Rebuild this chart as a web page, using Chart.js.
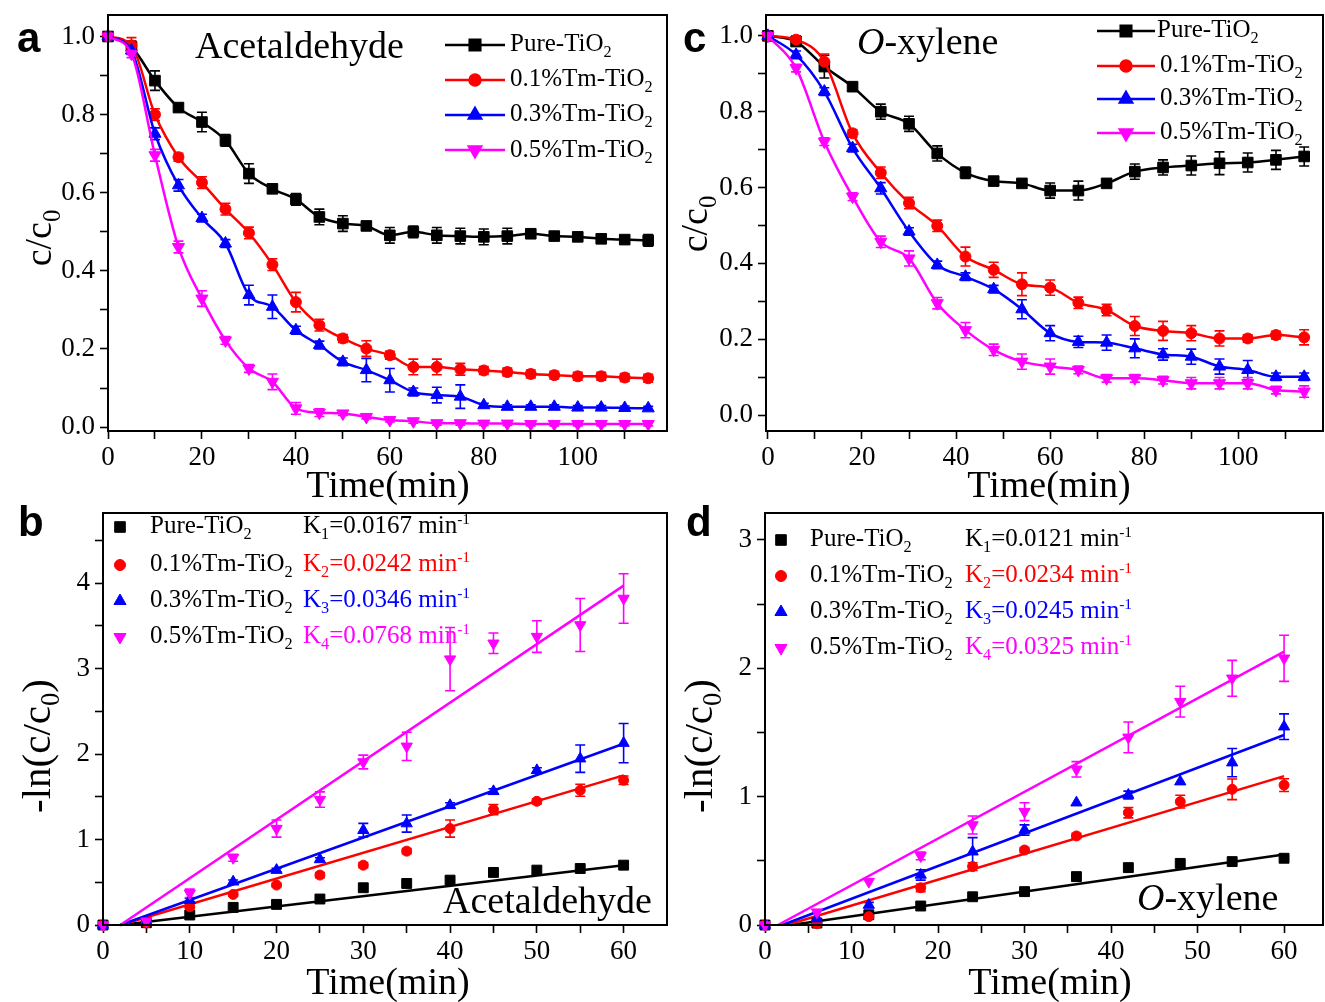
<!DOCTYPE html>
<html>
<head>
<meta charset="utf-8">
<script src="https://cdn.jsdelivr.net/npm/chart.js@4.4.1/dist/chart.umd.min.js"></script>
<style>
  body { margin: 0; background: #fff; }
  #fig { position: relative; width: 1325px; height: 1002px; overflow: hidden; background: #fff;
         font-family: "Liberation Serif", "Times New Roman", serif; color: #000; }
  #fig canvas { position: absolute; }
  .t { position: absolute; white-space: nowrap; line-height: 1; }
  .c { transform: translateX(-50%); }
  .rot { transform: translate(-50%, -50%) rotate(-90deg); }
  .letter { font-family: "Liberation Sans", Arial, sans-serif; font-weight: bold; font-size: 42px; }
  .title { font-size: 38px; }
  .ytitle { font-size: 38px; }
  .ltitle { font-size: 41px; }
  .key { font-size: 25px; }
  .gas { font-size: 38px; }
  sub { font-size: 0.65em; vertical-align: -0.35em; line-height: 0; }
  sup { font-size: 0.62em; vertical-align: 0.6em; line-height: 0; }
</style>
</head>
<body>
<div id="fig">
  <canvas id="chartA" width="680" height="500" style="left:0;top:0"></canvas>
  <canvas id="chartC" width="645" height="500" style="left:680px;top:0"></canvas>
  <canvas id="chartB" width="680" height="502" style="left:0;top:500px"></canvas>
  <canvas id="chartD" width="645" height="502" style="left:680px;top:500px"></canvas>

  <!-- panel letters -->
  <div class="t letter" style="left:17px;top:17px">a</div>
  <div class="t letter" style="left:683px;top:17px">c</div>
  <div class="t letter" style="left:18px;top:501px">b</div>
  <div class="t letter" style="left:686px;top:501px">d</div>

  <!-- axis titles -->
  <div class="t title c" style="left:388px;top:465px">Time(min)</div>
  <div class="t title c" style="left:1049px;top:465px">Time(min)</div>
  <div class="t title c" style="left:388px;top:962px">Time(min)</div>
  <div class="t title c" style="left:1050px;top:962px">Time(min)</div>
  <div class="t ytitle rot" style="left:38px;top:238px">c/c<sub>0</sub></div>
  <div class="t ytitle rot" style="left:694px;top:224px">c/c<sub>0</sub></div>
  <div class="t ltitle rot" style="left:36px;top:746px">-ln(c/c<sub>0</sub>)</div>
  <div class="t ltitle rot" style="left:698px;top:746px">-ln(c/c<sub>0</sub>)</div>

  <!-- pollutant labels -->
  <div class="t gas" style="left:195px;top:26px">Acetaldehyde</div>
  <div class="t gas" style="left:857px;top:22px"><i>O</i>-xylene</div>
  <div class="t gas" style="left:443px;top:881px">Acetaldehyde</div>
  <div class="t gas" style="left:1137px;top:878px"><i>O</i>-xylene</div>

  <!-- key texts, panel a -->
  <div class="t key" style="left:510px;top:30px">Pure-TiO<sub>2</sub></div>
  <div class="t key" style="left:510px;top:65px">0.1%Tm-TiO<sub>2</sub></div>
  <div class="t key" style="left:510px;top:100px">0.3%Tm-TiO<sub>2</sub></div>
  <div class="t key" style="left:510px;top:136px">0.5%Tm-TiO<sub>2</sub></div>
  <!-- key texts, panel c -->
  <div class="t key" style="left:1157px;top:16px">Pure-TiO<sub>2</sub></div>
  <div class="t key" style="left:1160px;top:51px">0.1%Tm-TiO<sub>2</sub></div>
  <div class="t key" style="left:1160px;top:84px">0.3%Tm-TiO<sub>2</sub></div>
  <div class="t key" style="left:1160px;top:118px">0.5%Tm-TiO<sub>2</sub></div>
  <!-- key texts, panel b -->
  <div class="t key" style="left:150px;top:512px">Pure-TiO<sub>2</sub></div>
  <div class="t key" style="left:150px;top:550px">0.1%Tm-TiO<sub>2</sub></div>
  <div class="t key" style="left:150px;top:586px">0.3%Tm-TiO<sub>2</sub></div>
  <div class="t key" style="left:150px;top:622px">0.5%Tm-TiO<sub>2</sub></div>
  <div class="t key" style="left:303px;top:512px">K<sub>1</sub>=0.0167 min<sup>-1</sup></div>
  <div class="t key" style="left:303px;top:550px;color:#ff0000">K<sub>2</sub>=0.0242 min<sup>-1</sup></div>
  <div class="t key" style="left:303px;top:586px;color:#0000ff">K<sub>3</sub>=0.0346 min<sup>-1</sup></div>
  <div class="t key" style="left:303px;top:622px;color:#ff00ff">K<sub>4</sub>=0.0768 min<sup>-1</sup></div>
  <!-- key texts, panel d -->
  <div class="t key" style="left:810px;top:525px">Pure-TiO<sub>2</sub></div>
  <div class="t key" style="left:810px;top:561px">0.1%Tm-TiO<sub>2</sub></div>
  <div class="t key" style="left:810px;top:597px">0.3%Tm-TiO<sub>2</sub></div>
  <div class="t key" style="left:810px;top:633px">0.5%Tm-TiO<sub>2</sub></div>
  <div class="t key" style="left:965px;top:525px">K<sub>1</sub>=0.0121 min<sup>-1</sup></div>
  <div class="t key" style="left:965px;top:561px;color:#ff0000">K<sub>2</sub>=0.0234 min<sup>-1</sup></div>
  <div class="t key" style="left:965px;top:597px;color:#0000ff">K<sub>3</sub>=0.0245 min<sup>-1</sup></div>
  <div class="t key" style="left:965px;top:633px;color:#ff00ff">K<sub>4</sub>=0.0325 min<sup>-1</sup></div>
</div>

<script>
const SERIF = '"Liberation Serif", "Times New Roman", serif'
const BLACK = "#000000"
const RED = "#ff0000"
const BLUE = "#0000ff"
const MAGENTA = "#ff00ff"

// ---- (a) acetaldehyde, c/c0 vs time ----
const acetTime = [0, 5, 10, 15, 20, 25, 30, 35, 40, 45, 50, 55, 60, 65, 70, 75, 80, 85, 90, 95, 100, 105, 110, 115]
const acetPure = [1.0, 0.973, 0.887, 0.818, 0.781, 0.734, 0.649, 0.610, 0.583, 0.538, 0.521, 0.515, 0.491, 0.500, 0.491, 0.489, 0.487, 0.489, 0.495, 0.489, 0.487, 0.482, 0.480, 0.478]
const acetPureErr = [0, 0.015, 0.025, 0, 0.025, 0.015, 0.025, 0.01, 0.015, 0.02, 0.02, 0.01, 0.02, 0.015, 0.02, 0.02, 0.02, 0.02, 0.01, 0.01, 0.01, 0.01, 0.01, 0.015]
const acetTm01 = [1.0, 0.977, 0.800, 0.691, 0.626, 0.558, 0.497, 0.416, 0.320, 0.261, 0.227, 0.201, 0.184, 0.154, 0.154, 0.148, 0.145, 0.141, 0.136, 0.133, 0.130, 0.130, 0.127, 0.125]
const acetTm01Err = [0, 0.02, 0.015, 0.01, 0.015, 0.015, 0.015, 0.015, 0.025, 0.015, 0.01, 0.02, 0.01, 0.02, 0.02, 0.015, 0.01, 0.01, 0.01, 0.01, 0.01, 0.01, 0.01, 0.01]
const acetTm03 = [1.0, 0.964, 0.751, 0.619, 0.535, 0.470, 0.338, 0.308, 0.248, 0.210, 0.167, 0.146, 0.120, 0.090, 0.082, 0.078, 0.056, 0.052, 0.052, 0.052, 0.050, 0.050, 0.049, 0.048]
const acetTm03Err = [0, 0.01, 0.015, 0.015, 0.01, 0.01, 0.025, 0.03, 0.01, 0.01, 0.01, 0.03, 0.03, 0.01, 0.02, 0.03, 0.005, 0.005, 0.005, 0.005, 0.005, 0.005, 0.005, 0.005]
const acetTm05 = [1.0, 0.956, 0.696, 0.461, 0.329, 0.222, 0.150, 0.116, 0.048, 0.037, 0.035, 0.026, 0.018, 0.015, 0.010, 0.010, 0.009, 0.009, 0.008, 0.008, 0.008, 0.008, 0.008, 0.008]
const acetTm05Err = [0, 0.01, 0.015, 0.015, 0.02, 0.01, 0.01, 0.02, 0.015, 0.01, 0.005, 0.005, 0.005, 0.005, 0.005, 0.005, 0.005, 0.005, 0.005, 0.005, 0.005, 0.005, 0.005, 0.005]

// ---- (c) o-xylene, c/c0 vs time ----
const xylTime = [0, 6, 12, 18, 24, 30, 36, 42, 48, 54, 60, 66, 72, 78, 84, 90, 96, 102, 108, 114]
const xylPure = [1.0, 0.985, 0.919, 0.866, 0.800, 0.768, 0.690, 0.639, 0.617, 0.611, 0.592, 0.592, 0.611, 0.642, 0.653, 0.658, 0.664, 0.666, 0.673, 0.682]
const xylPureErr = [0, 0.01, 0.03, 0.01, 0.02, 0.02, 0.02, 0.015, 0.01, 0.01, 0.02, 0.025, 0.01, 0.02, 0.02, 0.025, 0.03, 0.025, 0.025, 0.025]
const xylTm01 = [1.0, 0.990, 0.932, 0.743, 0.639, 0.559, 0.499, 0.418, 0.383, 0.345, 0.336, 0.296, 0.277, 0.235, 0.222, 0.216, 0.202, 0.202, 0.211, 0.205]
const xylTm01Err = [0, 0.01, 0.02, 0.01, 0.015, 0.015, 0.015, 0.025, 0.02, 0.03, 0.02, 0.015, 0.015, 0.025, 0.025, 0.02, 0.02, 0.01, 0.01, 0.02]
const xylTm03 = [1.0, 0.950, 0.853, 0.704, 0.598, 0.484, 0.396, 0.365, 0.332, 0.279, 0.216, 0.193, 0.191, 0.176, 0.160, 0.154, 0.128, 0.119, 0.101, 0.101]
const xylTm03Err = [0, 0.01, 0.01, 0.01, 0.015, 0.01, 0.01, 0.01, 0.01, 0.025, 0.02, 0.015, 0.02, 0.025, 0.015, 0.02, 0.02, 0.025, 0.01, 0.01]
const xylTm05 = [1.0, 0.915, 0.721, 0.576, 0.457, 0.413, 0.295, 0.224, 0.172, 0.141, 0.128, 0.119, 0.097, 0.097, 0.092, 0.084, 0.084, 0.084, 0.066, 0.062]
const xylTm05Err = [0, 0.01, 0.01, 0.01, 0.015, 0.02, 0.015, 0.02, 0.015, 0.02, 0.02, 0.01, 0.01, 0.01, 0.01, 0.015, 0.015, 0.015, 0.01, 0.015]

// ---- (b) acetaldehyde kinetics, -ln(c/c0) ----
const acetKinTime = [0, 5, 10, 15, 20, 25, 30, 35, 40, 45, 50, 55, 60]
const acetKinPure = [0, 0.027, 0.117, 0.206, 0.241, 0.304, 0.436, 0.486, 0.525, 0.615, 0.642, 0.661, 0.700]
const acetKinPureErr = [0, 0, 0, 0, 0, 0, 0, 0, 0, 0, 0, 0, 0]
const acetKinTm01 = [0, 0.023, 0.214, 0.358, 0.467, 0.584, 0.700, 0.864, 1.128, 1.350, 1.447, 1.576, 1.693]
const acetKinTm01Err = [0, 0, 0.02, 0.02, 0.02, 0.03, 0.03, 0.03, 0.10, 0.06, 0.03, 0.07, 0.05]
const acetKinTm03 = [0, 0.037, 0.290, 0.506, 0.642, 0.767, 1.109, 1.187, 1.400, 1.564, 1.809, 1.946, 2.128]
const acetKinTm03Err = [0, 0, 0.02, 0.02, 0.02, 0.02, 0.08, 0.10, 0.03, 0.03, 0.03, 0.16, 0.23]
const acetKinTm05 = [0, 0.045, 0.370, 0.786, 1.128, 1.467, 1.907, 2.090, 3.110, 3.296, 3.374, 3.510, 3.820]
const acetKinTm05Err = [0, 0, 0.05, 0.04, 0.10, 0.09, 0.08, 0.165, 0.37, 0.12, 0.185, 0.31, 0.29]
// fitted lines: [time, value] end points
const acetFitPure = [[2, 0], [60, 0.70]]
const acetFitTm01 = [[2, 0], [60, 1.75]]
const acetFitTm03 = [[2, 0], [60, 2.12]]
const acetFitTm05 = [[2, 0], [60, 3.97]]

// ---- (d) o-xylene kinetics, -ln(c/c0) ----
const xylKinTime = [0, 6, 12, 18, 24, 30, 36, 42, 48, 54, 60]
const xylKinPure = [0, 0.015, 0.080, 0.148, 0.220, 0.260, 0.377, 0.447, 0.480, 0.494, 0.520]
const xylKinPureErr = [0, 0, 0, 0, 0, 0, 0, 0, 0, 0, 0]
const xylKinTm01 = [0, 0.010, 0.065, 0.290, 0.455, 0.584, 0.694, 0.875, 0.961, 1.057, 1.090]
const xylKinTm01Err = [0, 0, 0.02, 0.03, 0.03, 0.02, 0.02, 0.04, 0.05, 0.08, 0.05]
const xylKinTm03 = [0, 0.050, 0.156, 0.390, 0.571, 0.740, 0.953, 1.013, 1.117, 1.265, 1.545]
const xylKinTm03Err = [0, 0, 0.02, 0.04, 0.11, 0.04, 0, 0.03, 0, 0.11, 0.10]
const xylKinTm05 = [0, 0.100, 0.338, 0.538, 0.779, 0.883, 1.213, 1.462, 1.740, 1.922, 2.078]
const xylKinTm05Err = [0, 0, 0, 0.03, 0.07, 0.07, 0.06, 0.12, 0.12, 0.14, 0.18]
const xylFitPure = [[3, 0], [60, 0.55]]
const xylFitTm01 = [[2.5, 0], [60, 1.16]]
const xylFitTm03 = [[2, 0], [60, 1.48]]
const xylFitTm05 = [[1.5, 0], [60, 2.13]]

// ---- tick positions (every other one carries a label) ----
const ratioYTicks = [0, 0.1, 0.2, 0.3, 0.4, 0.5, 0.6, 0.7, 0.8, 0.9, 1.0]
const longTimeTicks = [0, 10, 20, 30, 40, 50, 60, 70, 80, 90, 100, 110]
const acetKinYTicks = [0, 0.5, 1, 1.5, 2, 2.5, 3, 3.5, 4, 4.5]
const xylKinYTicks = [0, 0.5, 1, 1.5, 2, 2.5, 3]
const shortTimeTicks = [0, 5, 10, 15, 20, 25, 30, 35, 40, 45, 50, 55, 60]

// marker looks per sample
const SERIES_STYLE = [
  { color: BLACK, pointStyle: "rect", radius: 7.5, rotation: 0 },
  { color: RED, pointStyle: "circle", radius: 5.5, rotation: 0 },
  { color: BLUE, pointStyle: "triangle", radius: 7, rotation: 0 },
  { color: MAGENTA, pointStyle: "triangle", radius: 7, rotation: 180 }
]

const pts = (xs, ys) => xs.map((x, i) => ({ x: x, y: ys[i] }))

// Vertical error bars with short caps, drawn under the markers.
const errorBarPlugin = {
  id: "errorBars",
  beforeDatasetsDraw(chart) {
    const { ctx, scales } = chart
    chart.data.datasets.forEach((ds) => {
      if (!ds.errors) return
      ctx.save()
      ctx.strokeStyle = ds.errColor
      ctx.lineWidth = 1.6
      ds.data.forEach((p, i) => {
        const e = ds.errors[i]
        if (!e) return
        const px = scales.x.getPixelForValue(p.x)
        const top = scales.y.getPixelForValue(p.y + e)
        const bot = scales.y.getPixelForValue(p.y - e)
        ctx.beginPath()
        ctx.moveTo(px, top); ctx.lineTo(px, bot)
        ctx.moveTo(px - 5, top); ctx.lineTo(px + 5, top)
        ctx.moveTo(px - 5, bot); ctx.lineTo(px + 5, bot)
        ctx.stroke()
      })
      ctx.restore()
    })
  }
}

// Closed box around the plot area.
const framePlugin = {
  id: "frame",
  afterDraw(chart) {
    const { ctx, chartArea: a } = chart
    ctx.save()
    ctx.strokeStyle = "#000"
    ctx.lineWidth = 2
    ctx.strokeRect(a.left, a.top, a.right - a.left, a.bottom - a.top)
    ctx.restore()
  }
}

function drawMarker(ctx, st, x, y) {
  ctx.fillStyle = st.color
  ctx.strokeStyle = st.color
  if (Chart.helpers && Chart.helpers.drawPoint) {
    Chart.helpers.drawPoint(ctx, { pointStyle: st.pointStyle, radius: st.radius, rotation: st.rotation, borderWidth: 1 }, x, y)
  } else {
    ctx.beginPath(); ctx.arc(x, y, st.radius, 0, Math.PI * 2); ctx.fill()
  }
}

// Key samples (the key texts are html, with sub/superscripts).
const keySamplePlugin = {
  id: "keySamples",
  afterDraw(chart, args, opts) {
    if (!opts || !opts.rows) return
    const ctx = chart.ctx
    ctx.save()
    opts.rows.forEach((y, i) => {
      const st = SERIES_STYLE[i]
      if (opts.withLine) {
        ctx.strokeStyle = st.color
        ctx.lineWidth = 2.5
        ctx.beginPath(); ctx.moveTo(opts.x1, y); ctx.lineTo(opts.x2, y); ctx.stroke()
      }
      drawMarker(ctx, st, opts.markerX, y)
    })
    ctx.restore()
  }
}

function makeScales(o) {
  const tickFont = { family: SERIF, size: 27 }
  const grid = { drawOnChartArea: false, drawTicks: true, tickLength: 8, tickColor: "#000", tickWidth: 1.6 }
  return {
    x: {
      type: "linear", min: o.xMin, max: o.xMax,
      border: { display: false },
      grid: { ...grid },
      afterBuildTicks: (axis) => { axis.ticks = o.xTicks.map((v) => ({ value: v })) },
      ticks: {
        autoSkip: false, maxRotation: 0, color: "#000", font: tickFont, padding: 3,
        callback: (v, i) => (i % 2 === 0 ? String(v) : "")
      },
      // fixed axis band, no label overhang padding
      afterFit: (s) => { s.height = o.xAxisH; s.paddingLeft = 0; s.paddingRight = 0 }
    },
    y: {
      type: "linear", min: o.yMin, max: o.yMax,
      border: { display: false },
      grid: { ...grid },
      afterBuildTicks: (axis) => { axis.ticks = o.yTicks.map((v) => ({ value: v })) },
      ticks: {
        autoSkip: false, color: "#000", font: tickFont, padding: 5,
        callback: (v, i) => (i % 2 === 0 ? o.yFmt(v) : "")
      },
      afterFit: (s) => { s.width = o.yAxisW; s.paddingTop = 0; s.paddingBottom = 0 }
    }
  }
}

function curveSets(xs, series) {
  return series.map(([ys, errs], i) => {
    const st = SERIES_STYLE[i]
    return {
      data: pts(xs, ys), errors: errs, errColor: st.color,
      borderColor: st.color, backgroundColor: st.color, borderWidth: 2.5,
      cubicInterpolationMode: "monotone",
      pointStyle: st.pointStyle, pointRadius: st.radius, pointRotation: st.rotation,
      pointBackgroundColor: st.color, pointBorderColor: st.color, pointBorderWidth: 1,
      clip: false, order: 3 - i
    }
  })
}

function kineticSets(xs, series, fits) {
  const markers = series.map(([ys, errs], i) => {
    const st = SERIES_STYLE[i]
    return {
      data: pts(xs, ys), errors: errs, errColor: st.color, showLine: false,
      borderColor: st.color, backgroundColor: st.color,
      pointStyle: st.pointStyle, pointRadius: st.radius - 0.5, pointRotation: st.rotation,
      pointBackgroundColor: st.color, pointBorderColor: st.color, pointBorderWidth: 1,
      clip: false, order: 3 - i
    }
  })
  const lines = fits.map((f, i) => ({
    data: f.map(([x, y]) => ({ x: x, y: y })),
    borderColor: SERIES_STYLE[i].color, borderWidth: 2.5, pointRadius: 0,
    tension: 0, clip: false, order: 10 - i
  }))
  return markers.concat(lines)
}

function draw(id, datasets, scaleOpts, padding, key) {
  return new Chart(document.getElementById(id), {
    type: "line",
    data: { datasets: datasets },
    plugins: [errorBarPlugin, framePlugin, keySamplePlugin],
    options: {
      responsive: false, animation: false, devicePixelRatio: 1,
      layout: { padding: padding, autoPadding: false },
      plugins: { legend: { display: false }, tooltip: { enabled: false }, keySamples: key },
      scales: makeScales(scaleOpts)
    }
  })
}

draw("chartA",
  curveSets(acetTime, [[acetPure, acetPureErr], [acetTm01, acetTm01Err], [acetTm03, acetTm03Err], [acetTm05, acetTm05Err]]),
  { xMin: 0, xMax: 119, yMin: -0.01, yMax: 1.055, xTicks: longTimeTicks, yTicks: ratioYTicks,
    yFmt: (v) => v.toFixed(1), xAxisH: 69, yAxisW: 108 },
  { left: 0, top: 15, right: 13, bottom: 0 },
  { withLine: true, x1: 445, x2: 505, markerX: 475, rows: [45, 80, 115, 150] })

draw("chartC",
  curveSets(xylTime, [[xylPure, xylPureErr], [xylTm01, xylTm01Err], [xylTm03, xylTm03Err], [xylTm05, xylTm05Err]]),
  { xMin: -0.4, xMax: 118, yMin: -0.042, yMax: 1.055, xTicks: longTimeTicks, yTicks: ratioYTicks,
    yFmt: (v) => v.toFixed(1), xAxisH: 69, yAxisW: 86 },
  { left: 0, top: 15, right: 2, bottom: 0 },
  { withLine: true, x1: 417, x2: 475, markerX: 446, rows: [31, 66, 99, 133] })

draw("chartB",
  kineticSets(acetKinTime,
    [[acetKinPure, acetKinPureErr], [acetKinTm01, acetKinTm01Err], [acetKinTm03, acetKinTm03Err], [acetKinTm05, acetKinTm05Err]],
    [acetFitPure, acetFitTm01, acetFitTm03, acetFitTm05]),
  { xMin: 0, xMax: 65, yMin: 0, yMax: 4.82, xTicks: shortTimeTicks, yTicks: acetKinYTicks,
    yFmt: (v) => String(v), xAxisH: 77, yAxisW: 103 },
  { left: 0, top: 13, right: 13, bottom: 0 },
  { withLine: false, markerX: 120, rows: [27, 65, 101, 137] })

draw("chartD",
  kineticSets(xylKinTime,
    [[xylKinPure, xylKinPureErr], [xylKinTm01, xylKinTm01Err], [xylKinTm03, xylKinTm03Err], [xylKinTm05, xylKinTm05Err]],
    [xylFitPure, xylFitTm01, xylFitTm03, xylFitTm05]),
  { xMin: 0, xMax: 64.5, yMin: 0, yMax: 3.21, xTicks: shortTimeTicks, yTicks: xylKinYTicks,
    yFmt: (v) => String(v), xAxisH: 77, yAxisW: 85 },
  { left: 0, top: 13, right: 2, bottom: 0 },
  { withLine: false, markerX: 101, rows: [40, 76, 112, 148] })
</script>
</body>
</html>
